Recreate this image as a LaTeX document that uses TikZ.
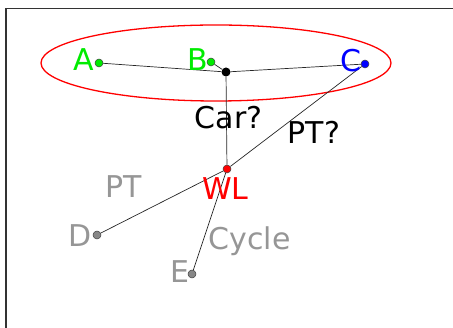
\documentclass[tikz,border=0pt]{standalone}
\usepackage{fontspec}
\setmainfont{DejaVu Sans}
\usetikzlibrary{positioning}

\definecolor{stopgreen}{RGB}{0,235,0}
\definecolor{stopgrey}{RGB}{150,150,150}
\definecolor{dotgrey}{RGB}{135,135,135}

\tikzset{
  stopdot/.style={circle, draw=black!75, line width=0.5pt, fill=#1, inner sep=0pt, minimum size=8pt},
  junction/.style={circle, fill=black, inner sep=0pt, minimum size=9pt},
  lbl/.style={font=\fontsize{30}{31}\selectfont, text=#1, inner sep=0pt, anchor=base},
  leg/.style={draw=black!85, line width=0.7pt},
}

\begin{document}
\begin{tikzpicture}[x=1pt,y=-1pt]
    \useasboundingbox (0,0) rectangle (453,328);

    % Frame
    \draw[black!80, line width=1.3pt] (6,328) -- (6,8.5) -- (453,8.5);

    % Zone round the origins
    \draw[red, line width=1.3pt] (216,63) ellipse [x radius=175, y radius=38];

    % Stops
    \node[stopdot=stopgreen] (A) at (99,63) {};
    \node[stopdot=stopgreen] (B) at (211,62) {};
    \node[stopdot=blue] (C) at (365,64) {};
    \node[junction] (J) at (226,72) {};
    \node[stopdot=red] (WL) at (227,169) {};
    \node[stopdot=dotgrey] (D) at (97,235) {};
    \node[stopdot=dotgrey] (E) at (192,274) {};

    % Legs
    \draw[leg] (A) -- (J);
    \draw[leg] (B) -- (J);
    \draw[leg] (C) -- (J);
    \draw[leg] (J) -- (WL);
    \draw[leg] (C) -- (WL);
    \draw[leg] (WL) -- (D);
    \draw[leg] (WL) -- (E);

    % Labels
    \node[lbl=stopgreen] (labA) at (84,71) {A};
    \node[lbl=stopgreen] (labB) at (198,70.5) {B};
    \node[lbl=blue] (labC) at (351,72) {C};
    \node[lbl=black] (car) at (228.5,129) {Car?};
    \node[lbl=black] (pt) at (314,144) {PT?};
    \node[lbl=stopgrey] (ptD) at (123.5,198) {PT};
    \node[lbl=red] (labWL) at (225.5,200) {WL};
    \node[lbl=stopgrey] (labD) at (80,247) {D};
    \node[lbl=stopgrey] (cycle) at (249.5,250) {Cycle};
    \node[lbl=stopgrey] (labE) at (179.5,283) {E};
\end{tikzpicture}
\end{document}
